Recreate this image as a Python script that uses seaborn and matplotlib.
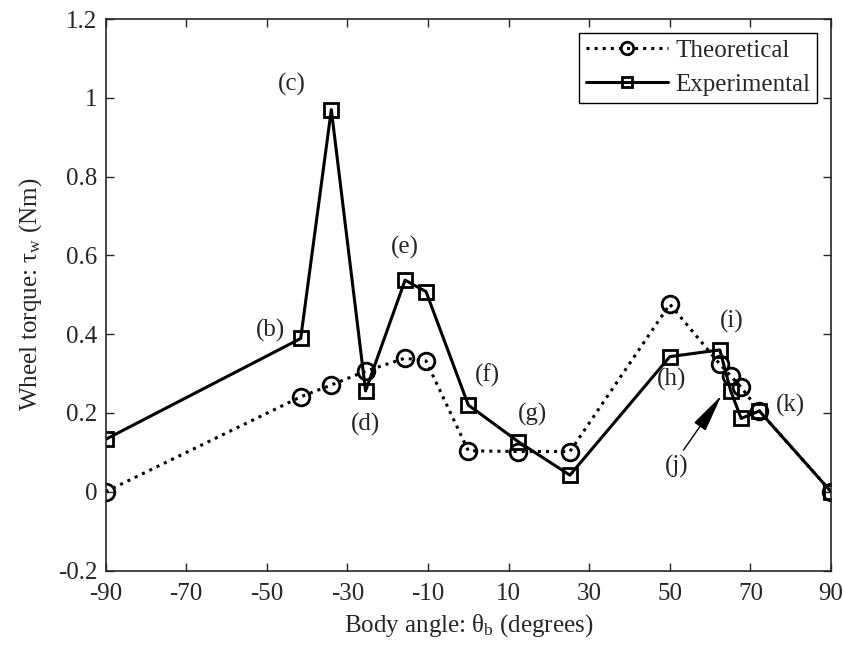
import matplotlib
matplotlib.use("Agg")
import matplotlib.pyplot as plt
import seaborn as sns

# Body angle (degrees) shared by both series
angles = [-90, -41.6, -34, -25.5, -15.7, -10.5, 0, 12.4, 25.2, 50, 62.4, 65.1, 67.7, 72.2, 90]
theoretical = [0.0, 0.241, 0.271, 0.306, 0.339, 0.332, 0.104, 0.102, 0.102, 0.476, 0.324, 0.294, 0.265, 0.205, 0.0]
experimental = [0.133, 0.389, 0.970, 0.256, 0.537, 0.508, 0.220, 0.127, 0.042, 0.343, 0.360, 0.256, 0.186, 0.205, 0.0]

# point labels: (text, x, y)
labels = [("(b)", -49.0, 0.41), ("(c)", -43.8, 1.035), ("(d)", -25.6, 0.171),
          ("(e)", -15.7, 0.619), ("(f)", 4.7, 0.296), ("(g)", 15.8, 0.195),
          ("(h)", 50.5, 0.284), ("(i)", 65.4, 0.431), ("(k)", 79.8, 0.220)]
j_label = ("(j)", 51.8, 0.063)
j_tail = (53.0, 0.100)
j_head = (63.2, 0.250)

x_ticks = list(range(-90, 91, 20))
y_ticks = [-0.2, 0, 0.2, 0.4, 0.6, 0.8, 1, 1.2]
y_tick_labels = ["-0.2", "0", "0.2", "0.4", "0.6", "0.8", "1", "1.2"]

sns.set_style("ticks")
plt.rcParams["font.family"] = ["Liberation Serif", "DejaVu Serif"]
plt.rcParams["mathtext.fontset"] = "stix"
plt.rcParams["axes.unicode_minus"] = False
fs = 18

fig = plt.figure(figsize=(8.45, 6.45), dpi=100)
ax = fig.add_axes([0.125, 0.1155, 0.8585, 0.855])

sns.lineplot(x=angles, y=theoretical, ax=ax, estimator=None, sort=False,
             color="k", linestyle=":", linewidth=2.2, marker="o", markersize=12,
             markerfacecolor="none", markeredgecolor="k", markeredgewidth=2,
             label="Theoretical")
sns.lineplot(x=angles, y=experimental, ax=ax, estimator=None, sort=False,
             color="k", linestyle="-", linewidth=2.2, marker="s", markersize=10,
             markerfacecolor="none", markeredgecolor="k", markeredgewidth=2,
             label="Experimental")

for txt, x, y in labels:
    ax.text(x, y, txt, fontsize=fs, ha="center", va="center")
ax.text(j_label[1], j_label[2], j_label[0], fontsize=fs, ha="center", va="center")
ax.annotate("", xy=j_head, xytext=j_tail,
            arrowprops=dict(arrowstyle="-|>,head_length=1.2,head_width=0.22",
                            color="k", lw=1, mutation_scale=20))

ax.set_xlim(-90, 90)
ax.set_ylim(-0.2, 1.2)
ax.set_xticks(x_ticks)
ax.set_yticks(y_ticks)
ax.set_yticklabels(y_tick_labels)
ax.tick_params(direction="in", top=True, right=True, labelsize=fs, length=6, width=1)
ax.tick_params(axis="x", pad=9)
ax.tick_params(axis="y", pad=6)
for s in ax.spines.values():
    s.set_linewidth(1.2)
    s.set_visible(True)

ax.set_xlabel(r"Body angle: $\mathregular{\theta_b}$ (degrees)", fontsize=fs, labelpad=5)
ax.set_ylabel(r"Wheel torque: $\mathregular{\tau_w}$ (Nm)", fontsize=fs, labelpad=10)

leg = ax.legend(loc="upper right", fontsize=fs, handlelength=3.3, handletextpad=0.3,
                labelspacing=0.46, borderpad=0.27, markerscale=0.75, fancybox=False,
                framealpha=1, edgecolor="k", borderaxespad=0.55)
leg.get_frame().set_linewidth(1)

fig.savefig("out.png", dpi=100)
